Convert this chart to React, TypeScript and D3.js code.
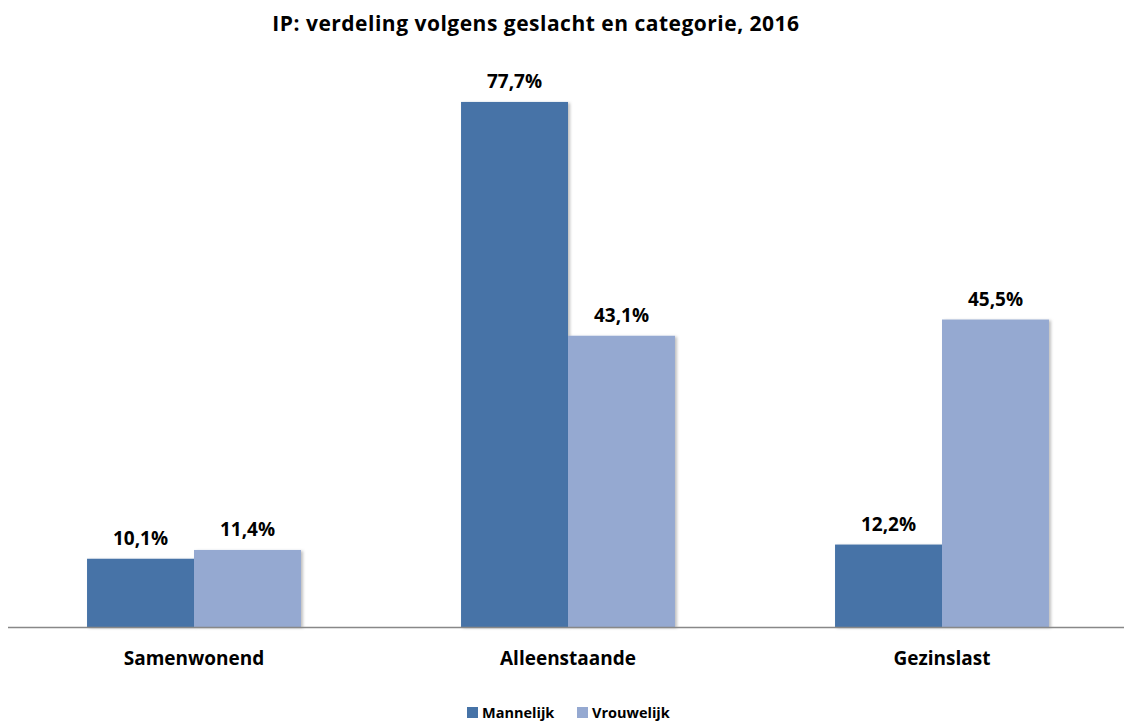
import React from 'react';
import { scaleBand, scaleLinear } from 'd3';

const categories = ['Samenwonend', 'Alleenstaande', 'Gezinslast'];
const seriesNames = ['Mannelijk', 'Vrouwelijk'];
const mannelijk = [10.1, 77.7, 12.2];
const vrouwelijk = [11.4, 43.1, 45.5];
const colors = ['#4673a7', '#95a9d1'];

const W = 1124;
const H = 722;
const FONT = '"Open Sans", Lato, sans-serif';

export default function App() {
  const baseline = 627;
  const values = [mannelijk, vrouwelijk];

  const x = scaleBand<string>()
    .domain(categories)
    .range([7, 1129])
    .paddingInner(0.428)
    .paddingOuter(0.214);

  const xs = scaleBand<string>().domain(seriesNames).range([0, x.bandwidth()]);

  const y = scaleLinear().domain([0, 80]).range([baseline, baseline - 540.6]);

  const fmt = (v: number) => v.toFixed(1).replace('.', ',') + '%';

  return (
    <svg width={W} height={H} style={{ position: 'absolute', left: 0, top: 0 }}>
      <defs>
        <filter id="sh" x="-10%" y="-10%" width="130%" height="130%">
          <feDropShadow dx="2" dy="1" stdDeviation="1.5" floodColor="#000" floodOpacity="0.25" />
        </filter>
      </defs>
      <rect width={W} height={H} fill="#fff" />
      <text
        x={536}
        y={31}
        textAnchor="middle"
        fontFamily={FONT}
        fontWeight="bold"
        fontSize={21}
        letterSpacing={0.5}
        fill="#000"
      >
        IP: verdeling volgens geslacht en categorie, 2016
      </text>

      {categories.map((c, i) => (
        <g key={c} transform={`translate(${x(c)},0)`}>
          {seriesNames.map((s, j) => {
            const v = values[j][i];
            return (
              <g key={s}>
                <rect
                  x={xs(s)}
                  y={y(v)}
                  width={xs.bandwidth()}
                  height={baseline - y(v)}
                  fill={colors[j]}
                  filter="url(#sh)"
                />
                <text
                  x={(xs(s) || 0) + xs.bandwidth() / 2}
                  y={y(v) - 14}
                  textAnchor="middle"
                  fontFamily={FONT}
                  fontWeight="bold"
                  fontSize={19}
                  fill="#000"
                >
                  {fmt(v)}
                </text>
              </g>
            );
          })}
          <text
            x={x.bandwidth() / 2}
            y={665}
            textAnchor="middle"
            fontFamily={FONT}
            fontWeight="bold"
            fontSize={19}
            fill="#000"
          >
            {c}
          </text>
        </g>
      ))}

      <line x1={8} x2={W} y1={baseline + 0.5} y2={baseline + 0.5} stroke="#888" strokeWidth={1.5} />

      {seriesNames.map((s, j) => {
        const lx = [467, 577][j];
        return (
          <g key={s}>
            <rect x={lx} y={707} width={11} height={11} fill={colors[j]} />
            <text x={lx + 15} y={718} fontFamily={FONT} fontWeight="bold" fontSize={14.5} fill="#000">
              {s}
            </text>
          </g>
        );
      })}
    </svg>
  );
}
